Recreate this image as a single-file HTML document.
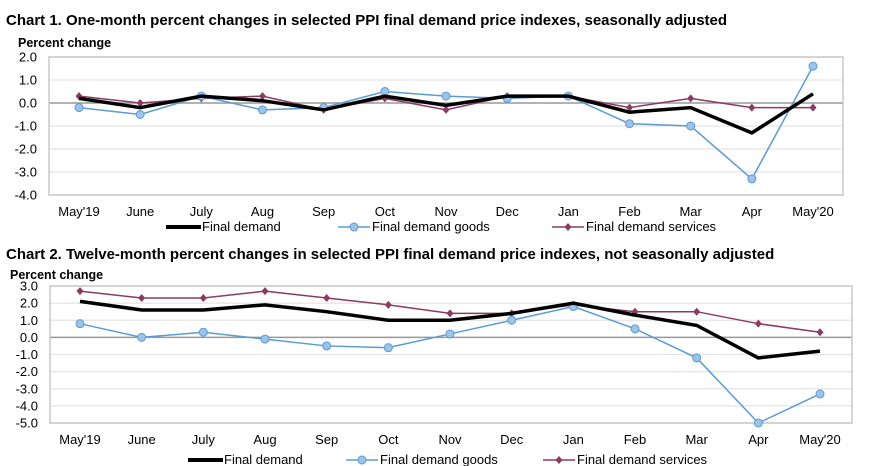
<!DOCTYPE html>
<html><head><meta charset="utf-8"><style>
body{margin:0;background:#fff;font-family:"Liberation Sans",Arial,sans-serif;}
svg{display:block}
</style></head><body>
<svg id="svg" width="870" height="466">
<text x="6" y="25" font-size="15" font-weight="bold" fill="#000">Chart 1. One-month percent changes in selected PPI final demand price indexes, seasonally adjusted</text>
<text x="18" y="47" font-size="12.5" font-weight="bold">Percent change</text>
<text x="6" y="259" font-size="15" font-weight="bold" fill="#000">Chart 2. Twelve-month percent changes in selected PPI final demand price indexes, not seasonally adjusted</text>
<text x="10" y="279" font-size="12.5" font-weight="bold">Percent change</text>
</svg>
<script>
const categories=["May'19","June","July","Aug","Sep","Oct","Nov","Dec","Jan","Feb","Mar","Apr","May'20"];
const c1Ticks=["2.0","1.0","0.0","-1.0","-2.0","-3.0","-4.0"];
const c1Final=[0.2,-0.2,0.3,0.1,-0.3,0.3,-0.1,0.3,0.3,-0.4,-0.2,-1.3,0.4];
const c1Goods=[-0.2,-0.5,0.3,-0.3,-0.2,0.5,0.3,0.2,0.3,-0.9,-1.0,-3.3,1.6];
const c1Services=[0.3,0.0,0.2,0.3,-0.3,0.2,-0.3,0.3,0.3,-0.2,0.2,-0.2,-0.2];
const c2Ticks=["3.0","2.0","1.0","0.0","-1.0","-2.0","-3.0","-4.0","-5.0"];
const c2Final=[2.1,1.6,1.6,1.9,1.5,1.0,1.0,1.4,2.0,1.3,0.7,-1.2,-0.8];
const c2Goods=[0.8,0.0,0.3,-0.1,-0.5,-0.6,0.2,1.0,1.8,0.5,-1.2,-5.0,-3.3];
const c2Services=[2.7,2.3,2.3,2.7,2.3,1.9,1.4,1.4,1.9,1.5,1.5,0.8,0.3];

const NS="http://www.w3.org/2000/svg";
const svg=document.getElementById('svg');
function mk(tag,attrs,parent){const e=document.createElementNS(NS,tag);for(const k in attrs)e.setAttribute(k,attrs[k]);(parent||svg).appendChild(e);return e;}

function chart(id,L,T,R,B,ticks,fd,gd,sv,x0,x1,labY,legY,legXs){
  const g=mk('g',{});
  
  
  const tv=ticks.map(Number);const ymax=tv[0],ymin=tv[tv.length-1];
  const y=v=>T+(ymax-v)/(ymax-ymin)*(B-T);
  const x=i=>x0+i*(x1-x0)/(categories.length-1);
  tv.forEach((v,i)=>{
    const ln=mk('line',{x1:L,x2:R,y1:y(v),y2:y(v),stroke:v===0?'#999':'#e4e4e4','stroke-width':v===0?1.5:1.2},g);
    
    
    const t=mk('text',{x:L-12,y:y(v)+4.5,'font-size':13,'text-anchor':'end'},g);t.textContent=ticks[i];
    
    
  });
  const fr=mk('rect',{x:L,y:T,width:R-L,height:B-T,fill:'none',stroke:'#c8c8c8','stroke-width':1.5},g);
  
  
  categories.forEach((c,i)=>{
    const t=mk('text',{x:x(i),y:labY,'font-size':13,'text-anchor':'middle'},g);t.textContent=c;
    
    
  });
  const pts=a=>a.map((v,i)=>x(i)+','+y(v)).join(' ');
  const p1=mk('polyline',{points:pts(sv),fill:'none',stroke:'#8b3a62','stroke-width':1.5},g);
  
  
  sv.forEach((v,i)=>{const d=mk('path',{d:`M${x(i)} ${y(v)-4}L${x(i)+3.5} ${y(v)}L${x(i)} ${y(v)+4}L${x(i)-3.5} ${y(v)}Z`,fill:'#8b3a62'},g);
    
    });
  const p2=mk('polyline',{points:pts(gd),fill:'none',stroke:'#5b9bd5','stroke-width':1.5},g);
  
  
  gd.forEach((v,i)=>{const d=mk('circle',{cx:x(i),cy:y(v),r:4,fill:'#9dc3e6',stroke:'#5b9bd5','stroke-width':1},g);
    
    });
  const p3=mk('polyline',{points:pts(fd),fill:'none',stroke:'#000','stroke-width':3.5,'stroke-linejoin':'miter'},g);
  
  
  // legend
  const lg=mk('g',{},g);
  
  
  const [a,b,c]=legXs;
  mk('line',{x1:a,x2:a+35,y1:legY-4,y2:legY-4,stroke:'#000','stroke-width':4},lg);
  let t=mk('text',{x:a+36,y:legY,'font-size':13},lg);t.textContent='Final demand';
  mk('line',{x1:b,x2:b+32,y1:legY-4,y2:legY-4,stroke:'#5b9bd5','stroke-width':1.5},lg);
  mk('circle',{cx:b+16,cy:legY-4,r:4,fill:'#9dc3e6',stroke:'#5b9bd5'},lg);
  t=mk('text',{x:b+34,y:legY,'font-size':13},lg);t.textContent='Final demand goods';
  mk('line',{x1:c,x2:c+32,y1:legY-4,y2:legY-4,stroke:'#8b3a62','stroke-width':1.5},lg);
  mk('path',{d:`M${c+16} ${legY-8}L${c+19.5} ${legY-4}L${c+16} ${legY}L${c+12.5} ${legY-4}Z`,fill:'#8b3a62'},lg);
  t=mk('text',{x:c+34,y:legY,'font-size':13},lg);t.textContent='Final demand services';
}
chart('chart1',49,57,843,195,c1Ticks,c1Final,c1Goods,c1Services,79,813,216,231,[166,338,552]);
chart('chart2',50,286,852,423,c2Ticks,c2Final,c2Goods,c2Services,80,820,444,464,[188,346,543]);
</script>
</body></html>
